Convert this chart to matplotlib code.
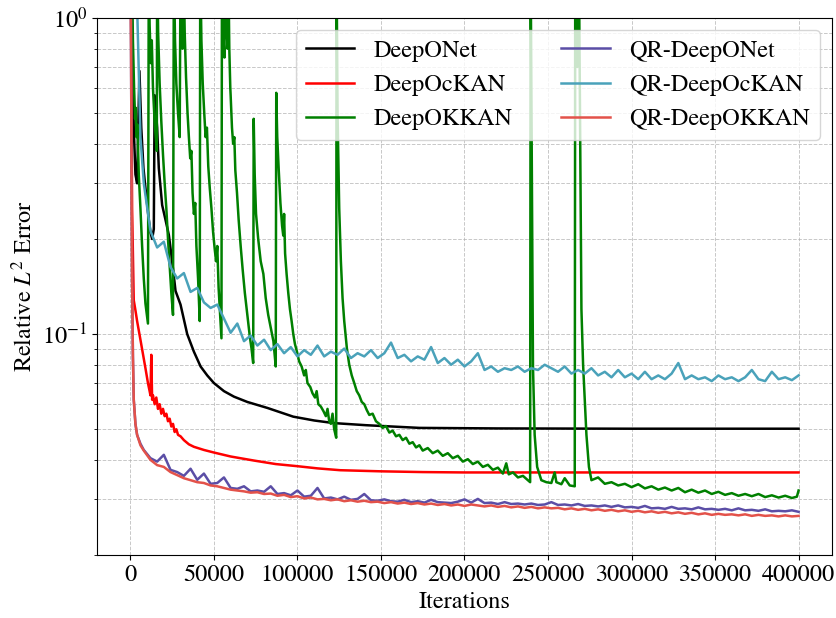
import numpy as np
import matplotlib
matplotlib.use("Agg")
import matplotlib.pyplot as plt

plt.rcParams['font.family'] = ['STIXGeneral', 'DejaVu Serif']
plt.rcParams['mathtext.fontset'] = 'stix'
plt.rcParams['font.size'] = 17.5

# DeepONet (smooth after the early spikes)
deeponet_iters = [0, 1000, 2000, 3000, 4000, 5400, 6500, 7800, 9600, 11000, 12000, 13000,
                  14000, 14500, 16000, 17000, 19000, 21000, 23000, 25000, 27000, 30000,
                  34000, 38000, 42000, 46000, 50000, 56000, 62000, 70000, 82000, 97500,
                  110000, 121600, 141000, 173000, 220000, 300000, 400000]
deeponet_err = [2.5, 0.9, 0.45, 0.32, 0.30, 0.68, 0.45, 0.335, 0.27, 0.23, 0.21, 0.20,
                0.215, 0.57, 0.45, 0.335, 0.256, 0.23, 0.206, 0.17, 0.137, 0.124,
                0.100, 0.088, 0.079, 0.074, 0.070, 0.066, 0.0634, 0.061, 0.0584, 0.0548,
                0.0533, 0.0523, 0.0515, 0.0505, 0.0503, 0.0502, 0.0502]

# DeepOcKAN
deepockan_iters = [0, 500, 1000, 2000, 3000, 4000, 6000, 9000, 10500, 11500, 12000, 12500,
                   13000, 13500, 14500, 15500, 16500, 17500, 18500, 19500, 20500, 21500,
                   22500, 23500, 24500, 25500, 26500, 27500, 28500, 30000, 32000, 35000,
                   38000, 44000, 50000, 60000, 74000, 87000, 100000, 112000, 125600,
                   150000, 175000, 200000, 250000, 300000, 400000]
deepockan_err = [2.5, 0.8, 0.25, 0.128, 0.119, 0.110, 0.096, 0.078, 0.070, 0.066, 0.064, 0.086,
                 0.062, 0.064, 0.060, 0.063, 0.058, 0.060, 0.056, 0.058, 0.055, 0.056,
                 0.053, 0.054, 0.051, 0.052, 0.049, 0.050, 0.048, 0.0475, 0.0462, 0.0448,
                 0.0440, 0.0430, 0.0422, 0.0410, 0.0398, 0.0388, 0.0382, 0.0376, 0.0371,
                 0.0368, 0.0366, 0.0365, 0.0365, 0.0365, 0.0365]

# DeepOKKAN: (iteration, error) pairs, restarts give the sawtooth spikes
deepokkan_points = [
    (0, 3.0), (800, 1.5), (1500, 0.85), (2200, 0.6), (2800, 0.48), (3200, 0.52),
    (3600, 0.42), (4200, 0.46), (5000, 0.32), (6000, 0.25), (7000, 0.19), (8000, 0.15),
    (9000, 0.125), (10500, 0.108),
    (11000, 1.5), (11500, 0.95), (12200, 0.72), (12800, 0.85), (13500, 0.6), (14500, 0.47),
    (15500, 0.40), (15800, 0.38),
    (16000, 1.5), (16600, 0.9), (17500, 0.62), (18500, 0.47), (19500, 0.37), (20500, 0.30),
    (21500, 0.25), (22500, 0.2), (23500, 0.165), (24500, 0.135), (25500, 0.115),
    (26000, 1.5), (26700, 0.85), (27500, 0.62), (28500, 0.5), (29500, 0.42),
    (30000, 1.5), (30600, 1.0), (31200, 0.8), (31800, 1.5), (32500, 0.9), (33300, 0.65),
    (34200, 0.5), (35000, 0.42), (35800, 0.36), (36500, 0.38), (37200, 0.28), (38000, 0.24),
    (38800, 0.26), (39500, 0.19), (40500, 0.15), (41500, 0.11),
    (41800, 1.5), (42500, 0.85), (43300, 0.62), (44200, 0.5), (45000, 0.42), (45800, 0.45),
    (46600, 0.34), (47500, 0.29), (48500, 0.25), (49500, 0.21), (50500, 0.185), (51300, 0.17),
    (52000, 0.19), (52800, 0.14), (53700, 0.115), (54500, 0.097),
    (54800, 1.5), (55500, 0.9), (56300, 0.75), (56800, 1.5), (57500, 0.95), (58200, 0.8),
    (58600, 1.5), (59200, 0.8), (59800, 0.6), (60000, 0.57), (60800, 0.45), (61500, 0.40),
    (62200, 0.42), (62800, 0.33), (63800, 0.28), (64800, 0.23), (66000, 0.19), (67200, 0.16),
    (68500, 0.135), (70000, 0.115), (71500, 0.098), (72500, 0.09), (73500, 0.081),
    (73800, 0.48), (74400, 0.32), (75200, 0.24), (76500, 0.2), (78000, 0.17), (79600, 0.155),
    (81000, 0.13), (82500, 0.115), (84000, 0.105), (85600, 0.095), (87000, 0.079),
    (87300, 0.58), (87900, 0.42), (88800, 0.33), (89800, 0.26), (90800, 0.22), (91500, 0.205),
    (92000, 0.24), (92600, 0.18), (93500, 0.155), (94500, 0.135), (95500, 0.12), (96500, 0.11),
    (97500, 0.1), (98500, 0.093), (99700, 0.088), (101000, 0.082), (102500, 0.079),
    (104000, 0.074), (105000, 0.077), (106000, 0.07), (107700, 0.068), (109000, 0.065),
    (110500, 0.063), (111500, 0.066), (112500, 0.06), (114000, 0.059), (115600, 0.057),
    (117000, 0.055), (118000, 0.058), (119000, 0.053), (120000, 0.052), (121000, 0.056),
    (122000, 0.05), (123200, 0.047),
    (123400, 1.5), (124000, 0.5), (125000, 0.25), (126000, 0.17), (127000, 0.13),
    (128000, 0.11), (129600, 0.09), (131000, 0.08), (132500, 0.074), (134000, 0.07),
    (135500, 0.066), (137000, 0.064), (138500, 0.061), (140000, 0.060), (141500, 0.0575),
    (143000, 0.0555), (145000, 0.0560), (147000, 0.0530), (149000, 0.0520), (151000, 0.0505),
    (153000, 0.0512), (155000, 0.0488), (157000, 0.0495), (159000, 0.0475), (161000, 0.0480),
    (163000, 0.0462), (165000, 0.0470), (167000, 0.0450), (169000, 0.0455), (171000, 0.0438),
    (173000, 0.0445), (175000, 0.0428), (178000, 0.0436), (181000, 0.0420), (184000, 0.0428),
    (187000, 0.0412), (190000, 0.0420), (193000, 0.0405), (196000, 0.0412), (199000, 0.0395),
    (202000, 0.0402), (205000, 0.0388), (208000, 0.0395), (211000, 0.0380), (214000, 0.0386),
    (217000, 0.0372), (220000, 0.0378), (223000, 0.0362), (225000, 0.0390), (226500, 0.0360),
    (229000, 0.0365), (232000, 0.0352), (235000, 0.0356), (238000, 0.0345), (239300, 0.0340),
    (239600, 1.5), (241000, 0.079), (242000, 0.048), (243500, 0.038), (246000, 0.0345),
    (249000, 0.0340), (252000, 0.0338), (254000, 0.0365), (255000, 0.0340), (258000, 0.0335),
    (260000, 0.0350), (263000, 0.0332), (266000, 0.0330),
    (266300, 1.5), (267500, 0.7), (268500, 1.5), (270000, 0.12), (271000, 0.080),
    (273000, 0.048), (274500, 0.038), (276000, 0.0345), (280000, 0.0352), (284000, 0.0336),
    (288000, 0.0340), (292000, 0.0332), (296000, 0.0336), (300000, 0.0328), (304000, 0.0335),
    (308000, 0.0325), (312000, 0.0330), (316000, 0.0322), (320000, 0.0327), (324000, 0.0320),
    (328000, 0.0326), (332000, 0.0316), (336000, 0.0322), (340000, 0.0315), (344000, 0.0320),
    (348000, 0.0312), (352000, 0.0317), (356000, 0.0310), (360000, 0.0314), (364000, 0.0308),
    (368000, 0.0312), (372000, 0.0307), (376000, 0.0312), (380000, 0.0305), (384000, 0.0309),
    (388000, 0.0304), (392000, 0.0308), (396000, 0.0303), (399000, 0.0306), (400000, 0.0320),
]
deepokkan_iters = [p[0] for p in deepokkan_points]
deepokkan_err = [p[1] for p in deepokkan_points]

# QR variants: a few early points, then every 4000 iterations
qr_head_iters = [0, 300, 700, 1000, 1500, 2000, 3000, 4000, 6000]
qr_tail_iters = np.arange(8000, 400001, 4000)

qr_deeponet_head = [2.5, 1.0, 0.3, 0.15, 0.085, 0.062, 0.052, 0.048, 0.045]
qr_deeponet_tail = [
    0.0430, 0.0405, 0.0395, 0.0415, 0.0372, 0.0366, 0.0356, 0.0375, 0.0346, 0.0362,
    0.0336, 0.0338, 0.0352, 0.0326, 0.0324, 0.0330, 0.0318, 0.0320, 0.0317, 0.0330,
    0.0312, 0.0314, 0.0309, 0.0320, 0.0306, 0.0308, 0.0326, 0.0302, 0.0304, 0.0300,
    0.0306, 0.0299, 0.0301, 0.0312, 0.0298, 0.0297, 0.0300, 0.0296, 0.0295, 0.0299,
    0.0294, 0.0296, 0.0293, 0.0299, 0.0294, 0.0293, 0.0292, 0.0295, 0.0300, 0.0293,
    0.0301, 0.0292, 0.0293, 0.0290, 0.0294, 0.0290, 0.0291, 0.0289, 0.0291, 0.0288,
    0.0289, 0.0294, 0.0288, 0.0289, 0.0287, 0.0290, 0.0286, 0.0287, 0.0285, 0.0287,
    0.0284, 0.0287, 0.0283, 0.0284, 0.0282, 0.0286, 0.0281, 0.0282, 0.0280, 0.0284,
    0.0280, 0.0281, 0.0279, 0.0283, 0.0279, 0.0280, 0.0278, 0.0280, 0.0277, 0.0281,
    0.0277, 0.0278, 0.0276, 0.0279, 0.0275, 0.0276, 0.0275, 0.0277, 0.0274]

qr_deepockan_head = [3.0, 2.6, 2.2, 2.0, 1.7, 1.5, 1.3, 1.1, 0.42]
qr_deepockan_tail = [
    0.300, 0.212, 0.188, 0.196, 0.163, 0.150, 0.156, 0.136, 0.140, 0.126,
    0.121, 0.124, 0.112, 0.101, 0.108, 0.095, 0.099, 0.092, 0.096, 0.089,
    0.093, 0.087, 0.091, 0.085, 0.089, 0.086, 0.092, 0.085, 0.088, 0.086,
    0.090, 0.084, 0.087, 0.085, 0.089, 0.084, 0.087, 0.094, 0.084, 0.086,
    0.082, 0.085, 0.083, 0.091, 0.081, 0.084, 0.080, 0.083, 0.079, 0.082,
    0.087, 0.077, 0.079, 0.076, 0.078, 0.077, 0.079, 0.076, 0.078, 0.077,
    0.080, 0.078, 0.076, 0.079, 0.075, 0.077, 0.075, 0.078, 0.074, 0.076,
    0.073, 0.077, 0.073, 0.075, 0.072, 0.076, 0.072, 0.074, 0.072, 0.075,
    0.081, 0.072, 0.074, 0.072, 0.073, 0.071, 0.074, 0.072, 0.073, 0.071,
    0.073, 0.077, 0.072, 0.071, 0.076, 0.072, 0.073, 0.0715, 0.074]

qr_deepokkan_head = [2.5, 1.0, 0.3, 0.15, 0.085, 0.062, 0.052, 0.048, 0.0445]
qr_deepokkan_tail = [
    0.0428, 0.0400, 0.0385, 0.0380, 0.0366, 0.0358, 0.0350, 0.0345, 0.0340, 0.0338,
    0.0332, 0.0330, 0.0326, 0.0322, 0.0320, 0.0318, 0.0315, 0.0316, 0.0312, 0.0313,
    0.0308, 0.0310, 0.0305, 0.0307, 0.0302, 0.0304, 0.0300, 0.0301, 0.0298, 0.0300,
    0.0296, 0.0298, 0.0295, 0.0297, 0.0294, 0.0295, 0.0292, 0.0294, 0.0291, 0.0293,
    0.0290, 0.0292, 0.0289, 0.0291, 0.0288, 0.0290, 0.0287, 0.0289, 0.0286, 0.0289,
    0.0287, 0.0285, 0.0287, 0.0284, 0.0286, 0.0283, 0.0285, 0.0282, 0.0284, 0.0281,
    0.0283, 0.0281, 0.0282, 0.0279, 0.0281, 0.0278, 0.0280, 0.0277, 0.0279, 0.0276,
    0.0278, 0.0275, 0.0277, 0.0274, 0.0276, 0.0273, 0.0275, 0.0272, 0.0274, 0.0271,
    0.0273, 0.0270, 0.0272, 0.0269, 0.0271, 0.0268, 0.0270, 0.0268, 0.0269, 0.0267,
    0.0269, 0.0266, 0.0268, 0.0266, 0.0267, 0.0265, 0.0267, 0.0265, 0.0266]

qr_iters = np.concatenate([qr_head_iters, qr_tail_iters])

series = [
    ("DeepONet", deeponet_iters, deeponet_err, "black"),
    ("DeepOcKAN", deepockan_iters, deepockan_err, "red"),
    ("DeepOKKAN", deepokkan_iters, deepokkan_err, "green"),
    ("QR-DeepONet", qr_iters, qr_deeponet_head + qr_deeponet_tail, "#5b4ea6"),
    ("QR-DeepOcKAN", qr_iters, qr_deepockan_head + qr_deepockan_tail, "#4aa2ba"),
    ("QR-DeepOKKAN", qr_iters, qr_deepokkan_head + qr_deepokkan_tail, "#e3524a"),
]

fig = plt.figure(figsize=(8.37, 6.18), dpi=100)
ax = fig.add_axes([0.1159, 0.1019, 0.8781, 0.8689])

for name, it, err, color in series:
    ax.plot(it, err, color=color, lw=1.8, label=name)

ax.set_yscale('log')
ax.set_ylim(0.02, 1)
ax.set_xlabel('Iterations')
ax.set_ylabel('Relative $L^2$ Error')
ax.set_xticks(np.arange(0, 400001, 50000))
ax.grid(True, which='both', linestyle='--', linewidth=0.7, alpha=0.7)
ax.legend(ncol=2, loc='upper right')

fig.savefig('out.png', dpi=100)
